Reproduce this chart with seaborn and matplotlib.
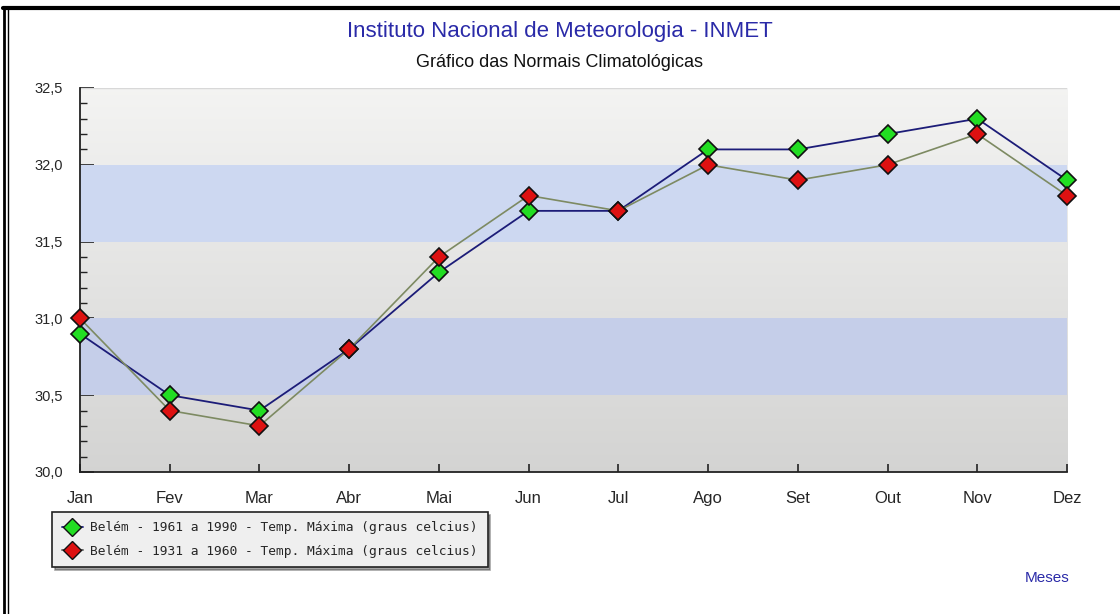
import matplotlib
matplotlib.use('Agg')
import matplotlib.pyplot as plt
from matplotlib.lines import Line2D
from matplotlib.ticker import MultipleLocator, FuncFormatter
import numpy as np
import pandas as pd
import seaborn as sns

# Dados
meses = ['Jan', 'Fev', 'Mar', 'Abr', 'Mai', 'Jun', 'Jul', 'Ago', 'Set', 'Out', 'Nov', 'Dez']
temp_1961_1990 = [30.9, 30.5, 30.4, 30.8, 31.3, 31.7, 31.7, 32.1, 32.1, 32.2, 32.3, 31.9]
temp_1931_1960 = [31.0, 30.4, 30.3, 30.8, 31.4, 31.8, 31.7, 32.0, 31.9, 32.0, 32.2, 31.8]
serie_a = 'Belém - 1961 a 1990 - Temp. Máxima (graus celcius)'
serie_b = 'Belém - 1931 a 1960 - Temp. Máxima (graus celcius)'

df = pd.DataFrame({'mes': np.arange(len(meses)),
                   'a': temp_1961_1990, 'b': temp_1931_1960})

sns.set_style('white')
plt.rcParams['font.family'] = ['Liberation Sans', 'DejaVu Sans']

fig = plt.figure(figsize=(11.2, 6.14), dpi=100, facecolor='white')
ax = fig.add_axes([0.0714, 0.2313, 0.8813, 0.6254])

# Fundo: gradiente cinza + faixas azuis
grad = np.linspace(0.955, 0.83, 256).reshape(-1, 1)
grad_rgb = np.dstack([grad, grad, grad * 0.995])
ax.imshow(grad_rgb, extent=[0, 11, 30.0, 32.5], aspect='auto', origin='upper', zorder=0)
ax.axhspan(31.5, 32.0, color='#cdd8f1', zorder=1, lw=0)
ax.axhspan(30.5, 31.0, color='#c5cee9', zorder=1, lw=0)
ax.axhline(32.5, color='#d8d8d8', lw=1, zorder=1)

sns.lineplot(data=df, x='mes', y='a', ax=ax, color='#1c1c78', lw=1.3,
             marker='D', markersize=9, markerfacecolor='#22dd22',
             markeredgecolor='#111111', markeredgewidth=1.2, zorder=3, clip_on=False)
sns.lineplot(data=df, x='mes', y='b', ax=ax, color='#7d8a62', lw=1.2,
             marker='D', markersize=9, markerfacecolor='#dd1111',
             markeredgecolor='#111111', markeredgewidth=1.2, zorder=4, clip_on=False)

ax.set_xlim(0, 11)
ax.set_ylim(30.0, 32.5)
ax.set_xticks(range(len(meses)))
ax.set_xticklabels(meses)
ax.yaxis.set_major_locator(MultipleLocator(0.5))
ax.yaxis.set_minor_locator(MultipleLocator(0.1))
ax.yaxis.set_major_formatter(FuncFormatter(lambda v, p: f'{v:.1f}'.replace('.', ',')))
ax.set_xlabel('')
ax.set_ylabel('')

for s in ['top', 'right']:
    ax.spines[s].set_visible(False)
for s in ['left', 'bottom']:
    ax.spines[s].set_color('#222222')
    ax.spines[s].set_linewidth(1.3)
ax.tick_params(axis='y', which='major', direction='in', length=10, width=1.2,
               color='#222222', labelsize=10.5, pad=12, left=True)
ax.tick_params(axis='y', which='minor', direction='in', length=5, width=1.0,
               color='#222222', left=True)
ax.tick_params(axis='x', which='major', direction='in', length=6, width=1.2,
               color='#222222', labelsize=12, pad=14, bottom=True)

# Títulos
fig.text(0.5, 0.948, 'Instituto Nacional de Meteorologia - INMET', ha='center', va='center',
         fontsize=16, color='#2a2aa8')
fig.text(0.5, 0.898, 'Gráfico das Normais Climatológicas', ha='center', va='center',
         fontsize=13, color='#111111')

# Legenda
handles = [
    Line2D([], [], color='#1c1c78', lw=1.3, marker='D', markersize=9,
           markerfacecolor='#22dd22', markeredgecolor='#111111'),
    Line2D([], [], color='#555555', lw=1.3, marker='D', markersize=9,
           markerfacecolor='#dd1111', markeredgecolor='#111111'),
]
leg = fig.legend(handles, [serie_a, serie_b], loc='upper left',
                 bbox_to_anchor=(0.041, 0.177), bbox_transform=fig.transFigure,
                 prop={'family': 'DejaVu Sans Mono', 'size': 9.3},
                 frameon=True, fancybox=False, shadow=True, handlelength=1.6,
                 handletextpad=0.6, borderpad=0.75, labelspacing=0.8)
leg.get_frame().set_facecolor('#efefef')
leg.get_frame().set_edgecolor('#222222')
leg.get_frame().set_linewidth(1.2)

fig.text(0.955, 0.058, 'Meses', ha='right', va='center', fontsize=11, color='#2a2aa8')

# Moldura preta
fig.add_artist(Line2D([0.003, 1.0], [0.987, 0.987], color='black', lw=3, transform=fig.transFigure))
fig.add_artist(Line2D([0.004, 0.004], [0.0, 0.987], color='black', lw=2, transform=fig.transFigure))
fig.add_artist(Line2D([0.0075, 0.0075], [0.0, 0.987], color='black', lw=1, transform=fig.transFigure))

plt.savefig('out.png', dpi=100)
